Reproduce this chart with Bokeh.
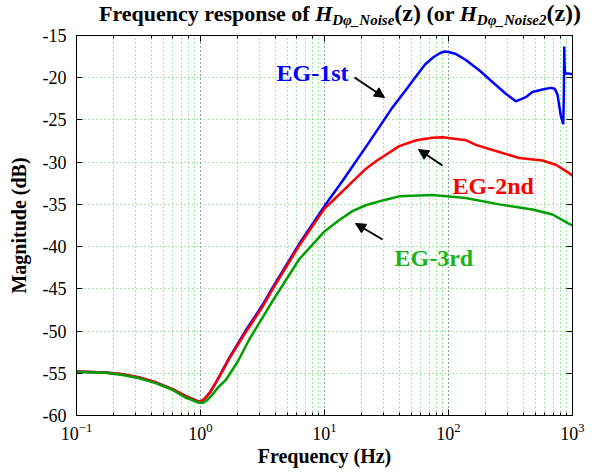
from bokeh.plotting import figure
from bokeh.layouts import column
from bokeh.models import (LogAxis, LinearAxis, FixedTicker, LogTicker, Label, Arrow,
                          NormalHead, Range1d, CustomJSTickFormatter, Div)
from bokeh.embed import file_html
from bokeh.resources import INLINE

# ---------------- data ----------------
freq_blue = [0.1, 0.17, 0.235, 0.32, 0.44, 0.6, 0.76, 0.85, 0.95, 1.02, 1.1, 1.2, 1.33, 1.46,
             1.7, 2.3, 2.5, 3.2, 3.8, 6.3, 10, 14, 23, 35, 45, 55, 65, 75, 85, 92, 100, 115,
             138, 180, 226, 290, 349, 420, 475, 573, 668, 720, 757, 805, 842, 852, 858, 863,
             870, 920, 1000]
db_blue = [-54.8, -54.9, -55.1, -55.5, -56.1, -56.9, -57.7, -58.0, -58.3, -58.3, -57.9, -57.2,
           -56.1, -55.0, -53.2, -50.0, -49.2, -46.8, -44.9, -39.6, -35.2, -32.2, -27.6, -23.6,
           -21.5, -19.8, -18.4, -17.6, -17.1, -16.9, -16.95, -17.2, -17.9, -19.2, -20.5,
           -21.9, -22.8, -22.3, -21.7, -21.4, -21.2, -21.3, -22.0, -24.5, -25.5, -22.0,
           -16.3, -18.5, -19.5, -19.5, -19.6]

freq_red = [0.1, 0.17, 0.235, 0.32, 0.44, 0.6, 0.76, 0.85, 0.95, 1.02, 1.1, 1.2, 1.33, 1.46,
            1.7, 2.3, 2.5, 3.2, 3.8, 6.3, 10, 11.6, 16.8, 21.5, 26, 30, 40, 55, 74, 90, 138,
            166, 256, 371, 573, 733, 940, 1000]
db_red = [-54.8, -54.9, -55.1, -55.5, -56.1, -56.9, -57.7, -58.0, -58.3, -58.3, -57.9, -57.2,
          -56.1, -55.1, -53.3, -50.2, -49.4, -47.0, -45.1, -39.8, -35.5, -34.6, -32.3, -30.8,
          -29.9, -29.3, -28.1, -27.4, -27.1, -27.05, -27.4, -27.95, -28.8, -29.5, -29.8,
          -30.3, -31.3, -31.6]

freq_green = [0.1, 0.17, 0.235, 0.32, 0.44, 0.6, 0.76, 0.87, 0.97, 1.05, 1.15, 1.25, 1.4,
              1.6, 2.0, 2.47, 3.2, 3.79, 6.25, 10, 13, 16.8, 21.5, 30, 40, 74, 138, 256, 475,
              690, 940, 1000]
db_green = [-54.85, -54.95, -55.2, -55.6, -56.2, -57.0, -57.9, -58.2, -58.5, -58.5, -58.1,
            -57.5, -56.6, -55.8, -53.6, -51.0, -48.3, -46.5, -41.5, -38.2, -36.9, -35.8,
            -35.1, -34.5, -34.05, -33.9, -34.25, -35.0, -35.6, -36.2, -37.3, -37.5]

y_ticks = [-60, -55, -50, -45, -40, -35, -30, -25, -20, -15]
series_names = ["EG-1st", "EG-2nd", "EG-3rd"]

# ---------------- layout helpers (page pixel -> data) ----------------
FL, FR, FT, FB = 84, 580, 33, 413
def X(px):
    return 10 ** (-1 + 4 * (px - FL) / (FR - FL))
def Y(py):
    return -15 - 45 * (py - FT) / (FB - FT)

SERIF = "Liberation Serif"
BLUE, RED, GREEN = "#0000ff", "#ff0000", "#009f00"
GRID_G = "#40d840"
GRID_P = "#a070d0"
TOP_BORDER = 12
TITLE_H = FT - 8 - TOP_BORDER

# ---------------- title (HTML text with italics and subscripts) ----------------
sub = "font-size:15px;vertical-align:-4px;font-style:italic"
big = "font-size:24px"
title_html = (
    "<span>Frequency response of </span><i>H</i>"
    f"<span style='{sub}'>Dφ_Noise</span><span style='{big}'>(z)</span>"
    "<span> (or </span><i>H</i>"
    f"<span style='{sub}'>Dφ_Noise2</span><span style='{big}'>(z))</span>"
)
title = Div(text=title_html, width=587, height=TITLE_H,
            styles={"font-family": SERIF, "font-size": "22px", "font-weight": "bold",
                    "color": "black", "white-space": "nowrap", "line-height": "17px",
                    "padding-left": "94px", "box-sizing": "border-box",
                    "overflow": "visible"})

# ---------------- main plot ----------------
p = figure(x_axis_type="log", x_range=Range1d(0.1, 1000), y_range=Range1d(-60, -15),
           frame_width=FR - FL, frame_height=FB - FT,
           min_border_left=FL - 8, min_border_right=587 - (FR - 8),
           min_border_top=TOP_BORDER, min_border_bottom=48,
           output_backend="svg", toolbar_location=None)
p.background_fill_color = "white"
p.border_fill_color = None
p.outline_line_color = "black"
p.outline_line_width = 1

# grids
p.xgrid.grid_line_color = GRID_P
p.xgrid.grid_line_dash = "1 3"
p.xgrid.grid_line_width = 1
p.xgrid.minor_grid_line_color = GRID_G
p.xgrid.minor_grid_line_dash = "1 3"
p.ygrid.grid_line_color = GRID_G
p.ygrid.grid_line_dash = "1 3"
p.ygrid.ticker = FixedTicker(ticks=y_ticks)

# axes
xa = p.xaxis[0]
ya = p.yaxis[0]
ya.ticker = FixedTicker(ticks=y_ticks)
ya.major_label_overrides = {t_: str(t_) for t_ in y_ticks}
for ax in (xa, ya):
    ax.major_tick_in = 6
    ax.major_tick_out = 0
    ax.minor_tick_in = 3
    ax.minor_tick_out = 0
    ax.axis_line_color = "black"
    ax.major_tick_line_color = "black"
    ax.minor_tick_line_color = "black"
    ax.major_label_text_font = SERIF
    ax.major_label_text_font_size = "18px"
    ax.major_label_text_color = "black"
    ax.axis_label_text_font = SERIF
    ax.axis_label_text_font_size = "20px"
    ax.axis_label_text_font_style = "bold"
    ax.axis_label_text_color = "black"
ya.minor_tick_line_color = None
xa.axis_label = "Frequency (Hz)"
ya.axis_label = "Magnitude (dB)"
xa.major_label_standoff = 7
ya.major_label_standoff = 10
xa.axis_label_standoff = 2
ya.axis_label_standoff = 10

blank = CustomJSTickFormatter(code="return ''")
top = LogAxis(ticker=LogTicker(), formatter=CustomJSTickFormatter(code="return ''"))
right = LinearAxis(ticker=FixedTicker(ticks=y_ticks), formatter=blank)
for ax in (top, right):
    ax.major_tick_in = 6
    ax.major_tick_out = 0
    ax.minor_tick_in = 3
    ax.minor_tick_out = 0
    ax.major_label_text_font_size = "1px"
    ax.major_label_standoff = 0
    ax.axis_label_standoff = 0
    ax.axis_line_color = "black"
right.minor_tick_line_color = None
p.add_layout(top, "above")
p.add_layout(right, "right")

# curves
p.line(freq_blue, db_blue, line_color=BLUE, line_width=2.5)
p.line(freq_red, db_red, line_color=RED, line_width=2.5)
p.line(freq_green, db_green, line_color=GREEN, line_width=2.5)

# series labels with arrows
def lab(text, px, py, color, size="24px", style="bold"):
    p.add_layout(Label(x=X(px), y=Y(py), text=text, text_color=color, text_font=SERIF,
                       text_font_size=size, text_font_style=style,
                       text_baseline="alphabetic", text_align="left"))

lab(series_names[0], 284, 70, BLUE)
lab(series_names[1], 460, 183, RED)
lab(series_names[2], 402, 255, "#1db31d")

def arrow(x0, y0, x1, y1):
    p.add_layout(Arrow(end=NormalHead(size=10, fill_color="black", line_color="black"),
                       x_start=X(x0), y_start=Y(y0), x_end=X(x1), y_end=Y(y1),
                       line_color="black", line_width=2))

arrow(362, 75, 392, 95)
arrow(450, 163, 426, 147)
arrow(390, 237, 363, 221)

layout = column(title, p, spacing=0)
open("out.html", "w").write(file_html(layout, INLINE))
